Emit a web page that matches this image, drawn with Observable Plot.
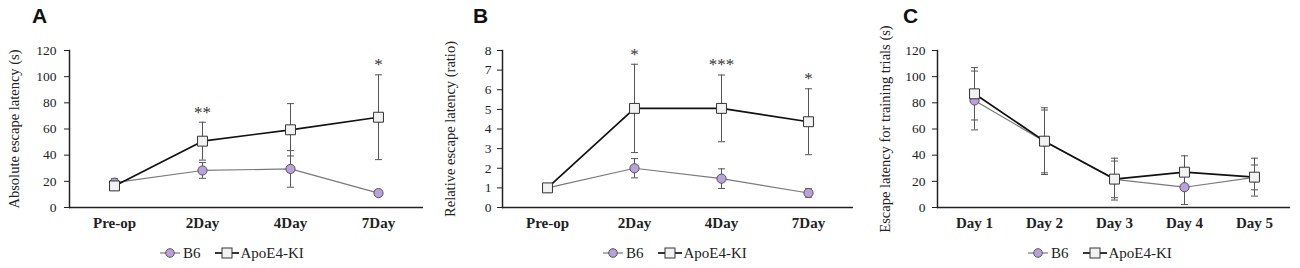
<!DOCTYPE html>
<html>
<head>
<meta charset="utf-8">
<script src="https://cdn.jsdelivr.net/npm/d3@7"></script>
<script src="https://cdn.jsdelivr.net/npm/@observablehq/plot@0.6"></script>
<style>
  html, body { margin: 0; padding: 0; background: #fff; }
  #fig { position: relative; width: 1300px; height: 268px; overflow: hidden; }
  .panel { position: absolute; top: 0; }
  .letter { position: absolute; top: 5px; font: bold 21px/21px "Liberation Sans", Arial, sans-serif; color: #111; }
  .legend { position: absolute; top: 244px; height: 18px; display: flex; align-items: center;
            font: 15px "Liberation Serif", "Times New Roman", serif; color: #222; white-space: nowrap; }
  .legend svg { display: block; }
  .legend span { margin-right: 14px; }
</style>
</head>
<body>
<div id="fig"></div>
<script>
// ---------- data ----------
const timepointsAB = ["Pre-op", "2Day", "4Day", "7Day"];
const absB6Mean  = [19, 28.3, 29.5, 11];
const absB6SD    = [3, 6, 14, 2];
const absApoMean = [16.5, 50.7, 59.4, 69];
const absApoSD   = [3, 14.5, 20, 32.4];
const absStars   = ["", "**", "", "*"];

const relB6Mean  = [1, 2.0, 1.47, 0.74];
const relB6SD    = [0, 0.49, 0.5, 0.22];
const relApoMean = [1, 5.05, 5.05, 4.37];
const relApoSD   = [0, 2.25, 1.7, 1.68];
const relStars   = ["", "*", "***", "*"];

const trainingDays = ["Day 1", "Day 2", "Day 3", "Day 4", "Day 5"];
const trainB6Mean  = [81.8, 50.5, 21.5, 15.5, 23];
const trainB6SD    = [22.5, 24, 14, 13.2, 9.5];
const trainApoMean = [86.9, 50.7, 21.7, 27, 23.2];
const trainApoSD   = [20, 25.5, 16, 12.5, 14.5];
const trainStars   = ["", "", "", "", ""];

const seriesNames = ["B6", "ApoE4-KI"];
const yTicks120 = [0, 20, 40, 60, 80, 100, 120];
const yTicks8 = [0, 1, 2, 3, 4, 5, 6, 7, 8];

// ---------- styles ----------
const B6_FILL = "#b9a2d9", B6_STROKE = "#5a5060", B6_LINE = "#7a7a7a";
const APO_FILL = "#f2f2f2", APO_STROKE = "#333", APO_LINE = "#111";
const ERR = "#555";

// horizontal cap symbol for error bars
const capSymbol = { draw(ctx) { ctx.moveTo(-3.5, 0); ctx.lineTo(3.5, 0); } };

function rows(cats, m, s, stars) {
  return cats.map((c, i) => ({cat: c, m: m[i], s: s[i], star: stars ? stars[i] : ""}));
}

function panel({cats, b6m, b6s, apm, aps, stars, yDomain, yTicks, label, width, marginLeft, marginRight, labelOffset, tickPadding}) {
  const b6 = rows(cats, b6m, b6s);
  const apo = rows(cats, apm, aps, stars);
  const errMarks = (d) => [
    Plot.ruleX(d.filter(r => r.s > 0), {x: "cat", y1: r => r.m - r.s, y2: r => r.m + r.s, stroke: ERR, strokeWidth: 1}),
    Plot.dot(d.filter(r => r.s > 0), {x: "cat", y: r => r.m + r.s, symbol: capSymbol, fill: "none", stroke: ERR, strokeWidth: 1}),
    Plot.dot(d.filter(r => r.s > 0), {x: "cat", y: r => r.m - r.s, symbol: capSymbol, fill: "none", stroke: ERR, strokeWidth: 1})
  ];
  return Plot.plot({
    width, height: 237,
    marginTop: 50, marginBottom: 30, marginLeft, marginRight,
    style: {fontFamily: "'Liberation Serif', 'Times New Roman', serif", fontSize: "15px", color: "#222", background: "transparent", overflow: "visible"},
    x: {type: "point", domain: cats, padding: 0.5},
    y: {domain: yDomain},
    marks: [
      Plot.axisY({ticks: yTicks, tickSize: 5, tickPadding, tickFormat: d => d, fontSize: 13.5, label: null}),
      Plot.axisY({ticks: [], label, labelAnchor: "center", labelArrow: "none", labelOffset, fontSize: 14.5}),
      Plot.axisX({tickSize: 0, tickPadding: 10, fontWeight: "bold", label: null, fontSize: 15}),
      ...errMarks(b6),
      Plot.line(b6, {x: "cat", y: "m", stroke: B6_LINE, strokeWidth: 1.2}),
      ...errMarks(apo),
      Plot.line(apo, {x: "cat", y: "m", stroke: APO_LINE, strokeWidth: 1.7}),
      Plot.dot(b6, {x: "cat", y: "m", r: 4.6, fill: B6_FILL, stroke: B6_STROKE, strokeWidth: 1}),
      Plot.dot(apo, {x: "cat", y: "m", symbol: "square", r: 5.6, fill: APO_FILL, stroke: APO_STROKE, strokeWidth: 1}),
      Plot.text(apo.filter(r => r.star), {x: "cat", y: r => r.m + r.s, text: "star", dy: -10, fontSize: 17, fill: "#333"}),
      Plot.frame({anchor: "left", stroke: "#222", strokeWidth: 1.5}),
      Plot.ruleY([yDomain[0]], {stroke: "#222", strokeWidth: 1.6})
    ]
  });
}

function legend() {
  const div = document.createElement("div");
  div.className = "legend";
  const glyph = (kind) => {
    const ns = "http://www.w3.org/2000/svg";
    const w = kind === "circle" ? 20 : 24;
    const svg = document.createElementNS(ns, "svg");
    svg.setAttribute("width", w); svg.setAttribute("height", 14);
    const line = document.createElementNS(ns, "line");
    line.setAttribute("x1", 0); line.setAttribute("x2", w); line.setAttribute("y1", 7); line.setAttribute("y2", 7);
    line.setAttribute("stroke", kind === "circle" ? B6_LINE : APO_LINE);
    line.setAttribute("stroke-width", kind === "circle" ? 1.2 : 1.7);
    svg.appendChild(line);
    let m;
    if (kind === "circle") {
      m = document.createElementNS(ns, "circle");
      m.setAttribute("cx", w / 2); m.setAttribute("cy", 7); m.setAttribute("r", 4.3);
      m.setAttribute("fill", B6_FILL); m.setAttribute("stroke", B6_STROKE);
    } else {
      m = document.createElementNS(ns, "rect");
      m.setAttribute("x", w / 2 - 5); m.setAttribute("y", 2); m.setAttribute("width", 10); m.setAttribute("height", 10);
      m.setAttribute("fill", APO_FILL); m.setAttribute("stroke", APO_STROKE);
    }
    svg.appendChild(m);
    return svg;
  };
  div.appendChild(glyph("circle"));
  const t1 = document.createElement("span"); t1.textContent = seriesNames[0]; t1.style.marginLeft = "3px";
  div.appendChild(t1);
  div.appendChild(glyph("square"));
  const t2 = document.createElement("span"); t2.textContent = seriesNames[1]; t2.style.marginLeft = "2px";
  div.appendChild(t2);
  return div;
}

const fig = document.getElementById("fig");
const configs = [
  {left: 0, letter: "A", letterX: 32, legendX: 160,
   cats: timepointsAB, b6m: absB6Mean, b6s: absB6SD, apm: absApoMean, aps: absApoSD, stars: absStars,
   yDomain: [0, 120], yTicks: yTicks120, label: "Absolute escape latency (s)",
   width: 430, marginLeft: 69, marginRight: 7, labelOffset: 61, tickPadding: 8},
  {left: 430, letter: "B", letterX: 473, legendX: 603,
   cats: timepointsAB, b6m: relB6Mean, b6s: relB6SD, apm: relApoMean, aps: relApoSD, stars: relStars,
   yDomain: [0, 8], yTicks: yTicks8, label: "Relative escape latency (ratio)",
   width: 430, marginLeft: 72, marginRight: 7, labelOffset: 58, tickPadding: 6},
  {left: 860, letter: "C", letterX: 903, legendX: 1028,
   cats: trainingDays, b6m: trainB6Mean, b6s: trainB6SD, apm: trainApoMean, aps: trainApoSD, stars: trainStars,
   yDomain: [0, 120], yTicks: yTicks120, label: "Escape latency for training trials (s)",
   width: 440, marginLeft: 77, marginRight: 10, labelOffset: 58, tickPadding: 7}
];
for (const c of configs) {
  const wrap = document.createElement("div");
  wrap.className = "panel";
  wrap.style.left = c.left + "px";
  wrap.appendChild(panel(c));
  fig.appendChild(wrap);
  const L = document.createElement("div");
  L.className = "letter"; L.style.left = c.letterX + "px"; L.textContent = c.letter;
  fig.appendChild(L);
  const lg = legend();
  lg.style.left = c.legendX + "px";
  fig.appendChild(lg);
}
</script>
</body>
</html>
